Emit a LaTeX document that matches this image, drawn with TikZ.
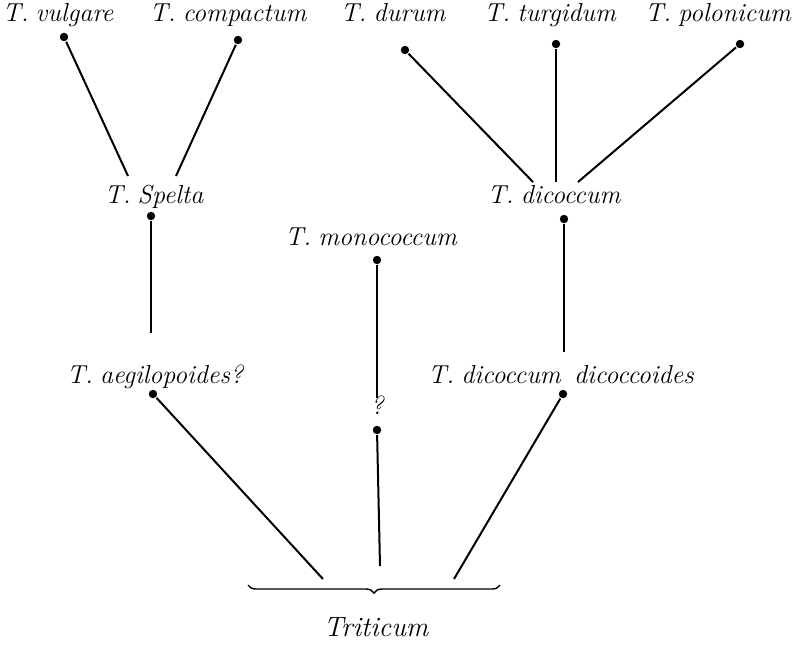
\documentclass[tikz,border=0pt]{standalone}
\usepackage{tikz}
\usetikzlibrary{positioning}
\usetikzlibrary{decorations.pathreplacing}
\tikzset{
d/.style={
  circle,
  inner sep=0pt,
  minimum width=4.2pt,
  fill=black
  },
l/.style={
  inner sep=0pt,
  anchor=base,
  font=\fontsize{13}{15}\selectfont\itshape
  }
}
\newcommand{\Tg}{T.\kern-1pt}

\begin{document}
\begin{tikzpicture}[x=0.5pt,y=-0.5pt,line width=1pt]
            \useasboundingbox (0,0) rectangle (812,650);
            % labels
            \node[l] (vul) at (58,21) {\Tg{} vulgare};
            \node[l] (com) at (228,21) {\Tg{} compactum};
            \node[l] (dur) at (393,21) {\Tg{} durum};
            \node[l] (tur) at (550,21) {\Tg{} turgidum};
            \node[l] (pol) at (718,21) {\Tg{} polonicum};
            \node[l] (spe) at (154,203) {\Tg{} Spelta};
            \node[l] (dic) at (554,203) {\Tg{} dicoccum};
            \node[l] (mon) at (371,245) {\Tg{} monococcum};
            \node[l] (aeg) at (155,383) {\Tg{} aegilopoides?};
            \node[l] (dcd) at (561,383) {\Tg{} dicoccum\ \,dicoccoides};
            \node[l] (q) at (377,414) {?};
            \node[l,font=\fontsize{14}{16}\selectfont\itshape] (tri) at (376,636) {Triticum};
            % dots
            \node[d] (1) at (64,37) {};
            \node[d] (2) at (238,40) {};
            \node[d] (3) at (405,50) {};
            \node[d] (4) at (556,44) {};
            \node[d] (5) at (740,44) {};
            \node[d] (6) at (151,216) {};
            \node[d] (7) at (564,219) {};
            \node[d] (8) at (377,260) {};
            \node[d] (9) at (153,394) {};
            \node[d] (10) at (563,394) {};
            \node[d] (11) at (377,430) {};
            % free ends
            \coordinate (s1) at (128,176);
            \coordinate (s2) at (176,176);
            \coordinate (k1) at (533,182);
            \coordinate (k2) at (556,182);
            \coordinate (k3) at (578,182);
            \coordinate (a) at (151,333);
            \coordinate (b) at (377,398);
            \coordinate (c) at (564,352);
            \coordinate (t1) at (323,579);
            \coordinate (t2) at (380,566);
            \coordinate (t3) at (454,579);
            \path[draw]
            (1) edge (s1)
            (2) edge (s2)
            (3) edge (k1)
            (4) edge (k2)
            (5) edge (k3)
            (6) edge (a)
            (7) edge (c)
            (8) edge (b)
            (9) edge (t1)
            (11) edge (t2)
            (10) edge (t3)
            ;
            \coordinate (bl) at (248,585);
            \coordinate (br) at (500,585);
            \draw[line width=0.7pt,decorate,decoration={brace,mirror,amplitude=4pt}] (bl) -- (br);
        \end{tikzpicture}
\end{document}
